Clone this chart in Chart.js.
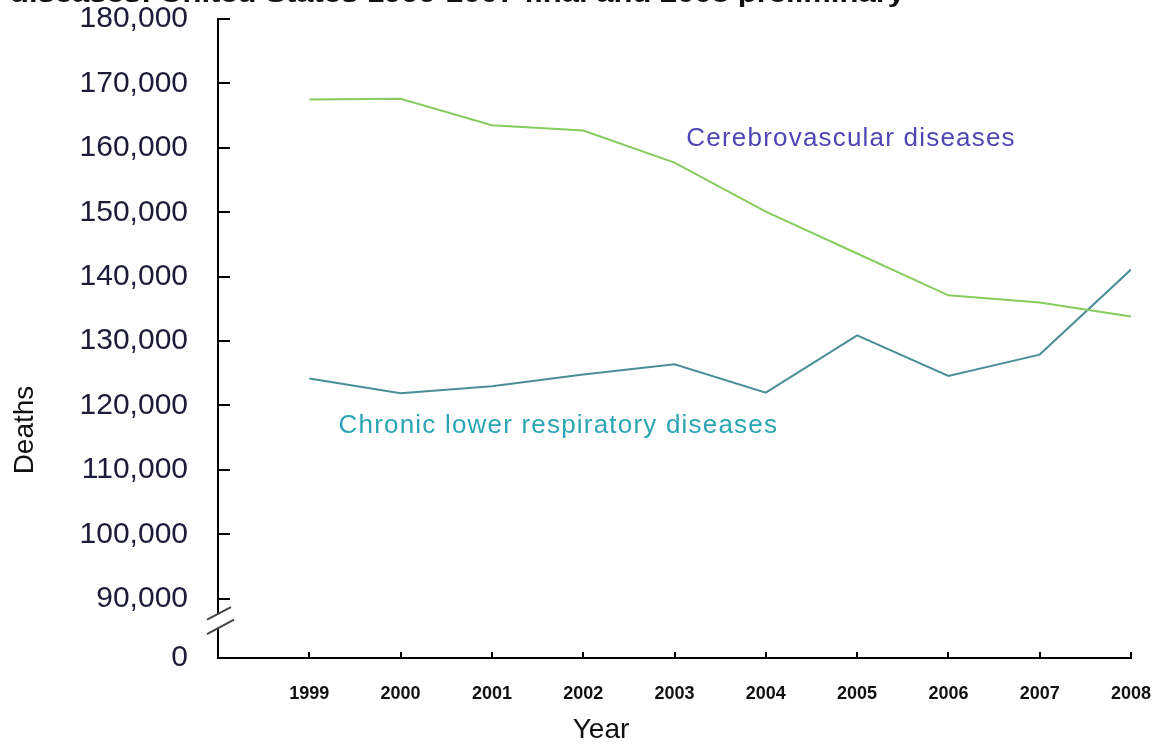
<!DOCTYPE html>
<html>
<head>
<meta charset="utf-8">
<script src="https://cdn.jsdelivr.net/npm/chart.js@4/dist/chart.umd.min.js"></script>
<style>
  html, body { margin: 0; padding: 0; background: #fff; }
  #wrap { width: 1158px; height: 746px; position: relative; }
</style>
</head>
<body>
<div id="wrap"><canvas id="c" width="1158" height="746"></canvas></div>
<script>
// ---- data ----
const years = [1999, 2000, 2001, 2002, 2003, 2004, 2005, 2006, 2007, 2008];
const cerebrovascular = [167500, 167600, 163500, 162700, 157700, 150100, 143600, 137100, 136000, 133800];
const chronicLowerResp = [124200, 121900, 123000, 124800, 126400, 122000, 130900, 124600, 127900, 141100];
const yTickValues = [90000, 100000, 110000, 120000, 130000, 140000, 150000, 160000, 170000, 180000];
const yAxisFloor = 80800;      // broken-axis floor, labelled "0"
const xAxisStart = 1998;
const seriesNames = ['Cerebrovascular diseases', 'Chronic lower respiratory diseases'];
const labelAnchors = [[2003.13, 161700], [1999.32, 117100]]; // [year, deaths] for the in-chart labels
const titleText = 'diseases: United States 1999-2007 final and 2008 preliminary';
const xTitle = 'Year';
const yTitle = 'Deaths';

const toPoints = arr => years.map((y, i) => ({ x: y, y: arr[i] }));

const decor = {
  id: 'decor',
  afterDraw(chart) {
    const ctx = chart.ctx;
    const xs = chart.scales.x, ys = chart.scales.y;
    const ax = chart.chartArea.left;
    const ab = chart.chartArea.bottom;
    ctx.save();
    // inward tick marks
    ctx.strokeStyle = '#000';
    ctx.lineWidth = 2;
    yTickValues.forEach(v => {
      const p = Math.round(ys.getPixelForValue(v));
      ctx.beginPath(); ctx.moveTo(ax, p); ctx.lineTo(ax + 12, p); ctx.stroke();
    });
    years.forEach(v => {
      const p = Math.round(xs.getPixelForValue(v));
      ctx.beginPath(); ctx.moveTo(p, ab); ctx.lineTo(p, ab - 6); ctx.stroke();
    });
    // axis break
    const p90 = ys.getPixelForValue(yTickValues[0]);
    ctx.fillStyle = '#fff';
    ctx.fillRect(ax - 3, p90 + 15, 6, 14);
    ctx.strokeStyle = '#444';
    ctx.lineWidth = 2;
    ctx.beginPath(); ctx.moveTo(ax - 11, p90 + 21); ctx.lineTo(ax + 13, p90 + 8.5); ctx.stroke();
    ctx.beginPath(); ctx.moveTo(ax - 11, p90 + 35.5); ctx.lineTo(ax + 16, p90 + 21); ctx.stroke();

    // series labels
    ctx.textBaseline = 'alphabetic';
    ctx.textAlign = 'left';
    ctx.font = '26px "Liberation Sans", Arial, sans-serif';
    if ('letterSpacing' in ctx) ctx.letterSpacing = '1.2px';
    const colors = ['#4f45b5', '#2aa5b5'];
    labelAnchors.forEach((a, i) => {
      ctx.fillStyle = colors[i];
      ctx.fillText(seriesNames[i], xs.getPixelForValue(a[0]), ys.getPixelForValue(a[1]) + 9);
    });
    if ('letterSpacing' in ctx) ctx.letterSpacing = '0px';

    // axis titles
    ctx.fillStyle = '#111';
    ctx.font = '28px "Liberation Sans", Arial, sans-serif';
    ctx.textAlign = 'center';
    ctx.textBaseline = 'middle';
    ctx.fillText(xTitle, 601, 730);
    ctx.save();
    ctx.translate(25, 430);
    ctx.rotate(-Math.PI / 2);
    ctx.fillText(yTitle, 0, 0);
    ctx.restore();

    // clipped title
    ctx.font = 'bold 26px "Liberation Sans", Arial, sans-serif';
    ctx.textAlign = 'left';
    ctx.textBaseline = 'alphabetic';
    const w = ctx.measureText(titleText).width;
    ctx.save();
    ctx.translate(10, 2);
    ctx.scale(895 / w, 1);
    ctx.fillText(titleText, 0, 0);
    ctx.restore();
    ctx.restore();
  }
};

new Chart(document.getElementById('c'), {
  type: 'line',
  data: {
    datasets: [
      { label: seriesNames[0], data: toPoints(cerebrovascular), borderColor: '#86cc5e', borderWidth: 2, pointRadius: 0, tension: 0, fill: false },
      { label: seriesNames[1], data: toPoints(chronicLowerResp), borderColor: '#4a8e99', borderWidth: 2, pointRadius: 0, tension: 0, fill: false }
    ]
  },
  options: {
    responsive: false,
    animation: false,
    events: [],
    layout: { padding: { top: 19, right: 27, left: 0, bottom: 0 } },
    plugins: { legend: { display: false }, title: { display: false }, tooltip: { enabled: false } },
    scales: {
      x: {
        type: 'linear',
        min: xAxisStart,
        max: years[years.length - 1],
        afterBuildTicks: s => { s.ticks = years.map(v => ({ value: v })); },
        afterFit: s => { s.height = 88; s.paddingLeft = 0; s.paddingRight = 0; s.paddingTop = 0; s.paddingBottom = 0; },
        grid: { display: false, drawTicks: false },
        border: { display: true, color: '#000', width: 2 },
        ticks: {
          padding: 25,
          autoSkip: false,
          maxRotation: 0,
          color: '#111',
          font: { family: '"Liberation Sans", Arial, sans-serif', size: 18, weight: 'bold' },
          callback: v => String(v)
        }
      },
      y: {
        type: 'linear',
        min: yAxisFloor,
        max: yTickValues[yTickValues.length - 1],
        afterBuildTicks: s => { s.ticks = [{ value: yAxisFloor }].concat(yTickValues.map(v => ({ value: v }))); },
        afterFit: s => { s.width = 218; s.paddingLeft = 0; s.paddingRight = 0; s.paddingTop = 0; s.paddingBottom = 0; },
        grid: { display: false, drawTicks: false },
        border: { display: true, color: '#000', width: 2 },
        ticks: {
          padding: 30,
          color: '#1c1c3a',
          font: { family: '"Liberation Sans", Arial, sans-serif', size: 30 },
          callback: v => v === yAxisFloor ? '0' : v.toLocaleString('en-US')
        }
      }
    }
  },
  plugins: [decor]
});
</script>
</body>
</html>
